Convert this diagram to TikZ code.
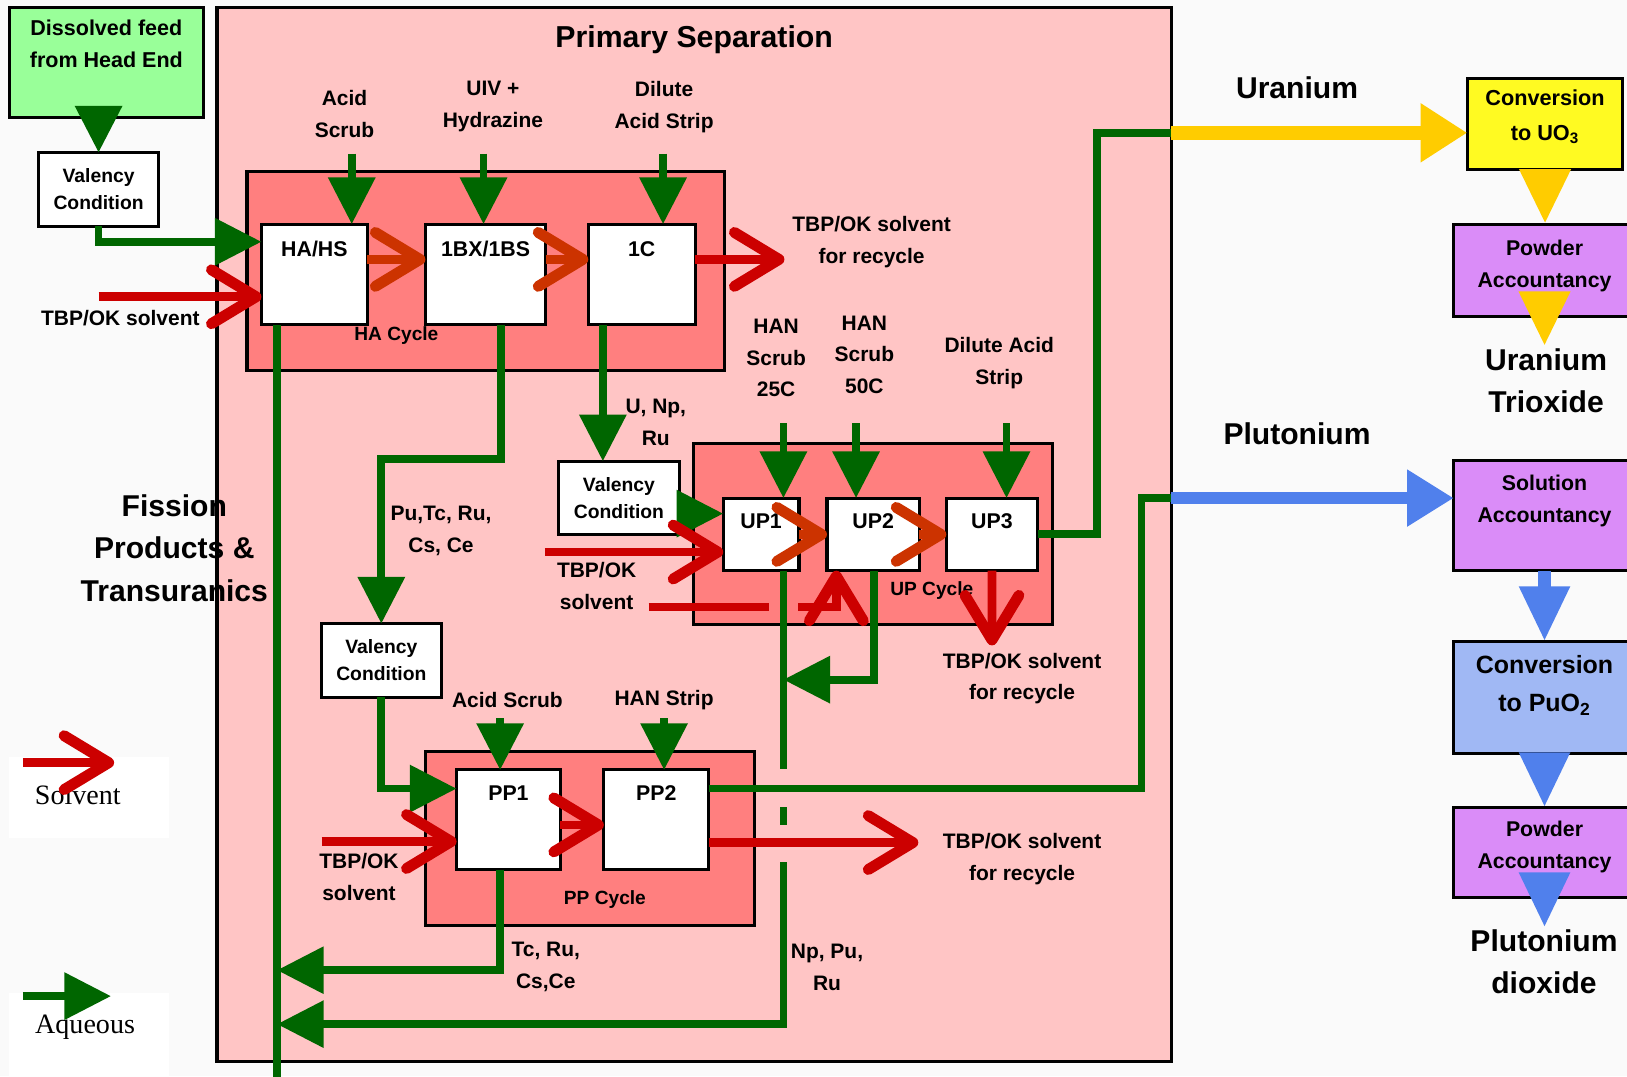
\documentclass[tikz,border=0pt]{standalone}
\usepackage{fontspec}
\setmainfont{Liberation Sans}
\newfontfamily\legendfont{Liberation Serif}
\usetikzlibrary{positioning,arrows.meta}
\definecolor{psbg}{HTML}{FFC5C5}
\definecolor{cycbg}{HTML}{FF7F7F}
\definecolor{feedbg}{HTML}{99FF99}
\definecolor{aqgreen}{HTML}{006600}
\definecolor{solvred}{HTML}{CC0000}
\definecolor{solvorange}{HTML}{CC3300}
\definecolor{uyellow}{HTML}{FFCC00}
\definecolor{uboxyellow}{HTML}{FFFA22}
\definecolor{accviolet}{HTML}{DA8CF8}
\definecolor{publuebox}{HTML}{A0B8F4}
\definecolor{publue}{HTML}{5080EC}
\newcommand{\lblfont}{\fontsize{11.5}{17.5}\selectfont\bfseries}
\newcommand{\unitfont}{\fontsize{11.7}{14}\selectfont\bfseries}
\newcommand{\vcfont}{\fontsize{10.6}{14.8}\selectfont\bfseries}
\newcommand{\cycfont}{\fontsize{10.5}{12}\selectfont\bfseries}
\newcommand{\bigfont}{\fontsize{16.5}{23.3}\selectfont\bfseries}
\newcommand{\titlefont}{\fontsize{16.6}{20}\selectfont\bfseries}
\newcommand{\feedfont}{\fontsize{11.8}{17.6}\selectfont\bfseries}
\newcommand{\prodfont}{\fontsize{11.7}{17.6}\selectfont\bfseries}
\newcommand{\convfont}{\fontsize{11.9}{18.8}\selectfont\bfseries}
\newcommand{\convpufont}{\fontsize{13.7}{21}\selectfont\bfseries}
\newcommand{\legfont}{\legendfont\mdseries\fontsize{15.4}{18}\selectfont}

\begin{document}
\begin{tikzpicture}[
  x=0.02cm, y=-0.02cm, font=\lblfont,
  box/.style={draw, line width=0.06cm, inner sep=0pt, outer sep=0pt, align=center},
  unit/.style={box, fill=white, font=\unitfont},
  harow/.style={unit, text height=0.63cm, text depth=1.31cm},
  uprow/.style={unit, text height=0.59cm, text depth=0.81cm},
  pprow/.style={unit, text height=0.59cm, text depth=1.33cm},
  vc/.style={box, fill=white, font=\vcfont, minimum width=2.32cm, minimum height=1.42cm},
  cyc/.style={box, fill=cycbg},
  prod/.style={box, minimum width=3.5cm},
  txt/.style={align=center, inner sep=1pt},
  prodtxt/.style={txt, font=\prodfont},
  cyctxt/.style={txt, font=\cycfont},
  big/.style={txt, font=\bigfont},
  legbox/.style={fill=white, inner sep=0pt, minimum width=3.08cm},
  aqline/.style={draw=aqgreen, line width=0.15cm},
  aq/.style={aqline, -{Triangle[length=0.9cm, width=0.88cm]}},
  solv/.style={draw=solvred, line width=0.17cm,
    -{Straight Barb[length=0.86cm, width=1.04cm, line width=0.21cm, round]}},
  solvo/.style={solv, draw=solvorange},
  uarr/.style={draw=uyellow, line width=0.26cm, -{Triangle[length=0.9cm, width=1.08cm]}},
  parr/.style={draw=publue, line width=0.24cm, -{Triangle[length=0.9cm, width=1.04cm]}},
  udown/.style={uarr, -{Triangle[length=1.06cm, width=0.92cm]}},
  pdown/.style={parr, -{Triangle[length=1.06cm, width=0.92cm]}}
]
\useasboundingbox (0,0) rectangle (1568,1037);
\fill[white!98!black] (0,0) rectangle (1568,1037);

\node[box, fill=psbg, minimum width=18.4cm, minimum height=20.32cm] (ps) at (669,515) {};
\node[txt, font=\titlefont] (pstitle) at (669,38) {Primary Separation};

\node[box, fill=feedbg, minimum width=3.74cm, minimum height=2.12cm,
  label={[txt, font=\feedfont, yshift=0.35cm]center:{Dissolved feed\\from Head End}}] (feed) at (102.5,60) {};
\node[vc] (vc1) at (95,182.5) {Valency\\Condition};

\node[cyc, minimum width=9.2cm, minimum height=3.84cm] (hacyc) at (468,261) {};
\node[cyc, minimum width=6.92cm, minimum height=3.5cm] (upcyc) at (841,514.5) {};
\node[cyc, minimum width=6.34cm, minimum height=3.36cm] (ppcyc) at (568.5,808) {};
\node[cyctxt] (hacyct) at (382,323) {HA Cycle};
\node[cyctxt] (upcyct) at (898,569) {UP Cycle};
\node[cyctxt] (ppcyct) at (583,867) {PP Cycle};

\node[harow, minimum width=2.04cm] (hahs) at (303,264.5) {HA/HS};
\node[harow, minimum width=2.32cm, right=1.12cm of hahs] (bx) {1BX/1BS};
\node[harow, minimum width=2.06cm, right=0.82cm of bx] (c1) {1C};
\node[uprow, minimum width=1.46cm] (up1) at (733.5,515) {UP1};
\node[uprow, minimum width=1.78cm, right=0.54cm of up1] (up2) {UP2};
\node[uprow, minimum width=1.76cm, right=0.52cm of up2] (up3) {UP3};
\node[pprow, minimum width=2.0cm] (pp1) at (490,790) {PP1};
\node[pprow, minimum width=2.02cm, right=0.84cm of pp1] (pp2) {PP2};
\node[vc] (vc2) at (596.5,480) {Valency\\Condition};
\node[vc] (vc3) at (367.5,636.5) {Valency\\Condition};

\node[box, fill=uboxyellow, minimum width=3.0cm, minimum height=1.74cm,
  label={[txt, font=\convfont, yshift=0.14cm]center:{Conversion\\to UO\textsubscript{3}}}] (conv1) at (1489,119.5) {};
\node[prod, fill=accviolet, minimum height=1.78cm,
  label={[prodtxt, yshift=0.08cm]center:{Powder\\Accountancy}}] (powu) at (1488.5,260.5) {};
\node[big] (uo3) at (1490,367) {Uranium\\Trioxide};
\node[prod, fill=accviolet, minimum height=2.12cm,
  label={[prodtxt, yshift=0.28cm]center:{Solution\\Accountancy}}] (solacc) at (1488.5,497) {};
\node[prod, fill=publuebox, minimum height=2.16cm,
  label={[txt, font=\convpufont, yshift=0.23cm]center:{Conversion\\to PuO\textsubscript{2}}}] (convpu) at (1488.5,672) {};
\node[prod, fill=accviolet, minimum height=1.74cm,
  label={[prodtxt, yshift=0.1cm]center:{Powder\\Accountancy}}] (powpu) at (1488.5,821.5) {};
\node[big] (puo2) at (1488,927) {Plutonium\\dioxide};

\node[big] (urlbl) at (1250,85) {Uranium};
\node[big] (pulbl) at (1250,418) {Plutonium};
\node[big] (fplbl) at (168,528) {Fission\\Products \&\\Transuranics};

\node[txt] (acidl) at (332,110) {Acid\\Scrub};
\node[txt] (uivl) at (475,103) {UIV +\\Hydrazine};
\node[txt] (dill) at (640,103) {Dilute\\Acid Strip};
\node[txt] (hasolvl) at (116,307) {TBP/OK solvent};
\node[txt] (harecl) at (840,233) {TBP/OK solvent\\for recycle};
\node[txt] (han25l) at (748,345) {HAN\\Scrub\\25C};
\node[txt] (han50l) at (833,342) {HAN\\Scrub\\50C};
\node[txt] (upstripl) at (963,350) {Dilute Acid\\Strip};
\node[txt] (c1outl) at (632,407) {U, Np,\\Ru};
\node[txt] (bxoutl) at (425,512) {Pu,Tc, Ru,\\Cs, Ce};
\node[txt] (upsolvl) at (575,565) {TBP/OK\\solvent};
\node[txt] (uprecl) at (985,654) {TBP/OK solvent\\for recycle};
\node[txt] (ppscrubl) at (489,675) {Acid Scrub};
\node[txt] (hanstripl) at (640,675) {HAN Strip};
\node[txt] (ppsolvl) at (346,845) {TBP/OK\\solvent};
\node[txt] (pprecl) at (985,828) {TBP/OK solvent\\for recycle};
\node[txt] (pprafl) at (526,932) {Tc, Ru,\\Cs,Ce};
\node[txt] (uprafl) at (797,932) {Np, Pu,\\Ru};

\node[legbox, minimum height=1.56cm] (legs) at (86,769) {};
\node[legbox, minimum height=1.6cm] (lega) at (86,997) {};
\node[font=\legfont] (legst) at (75,766) {Solvent};
\node[font=\legfont] (legat) at (82,990) {Aqueous};

\coordinate (haaq) at (0,233);
\coordinate (haorg) at (0,250);
\coordinate (upaq) at (0,495);
\coordinate (ppaq) at (0,760);
\coordinate (pporg) at (0,795);
\coordinate (acidin) at (339,148);
\coordinate (uivin) at (466,148);
\coordinate (dilin) at (639,148);
\coordinate (han25in) at (755,408);
\coordinate (han50in) at (825,408);
\coordinate (upstripin) at (970,408);
\coordinate (ppscrubin) at (482,692);
\coordinate (hanstripin) at (640,692);
\coordinate (hasolv) at (95,286);
\coordinate (upsolv) at (525,532);
\coordinate (ppsolv) at (310,811);
\coordinate (upscrubsolv) at (625,585);
\coordinate (upscrubturn) at (806,585);
\coordinate (harec) at (756,250);
\coordinate (uprec) at (956,622);
\coordinate (pprec) at (885,812);
\coordinate (fpout) at (267,1045);
\coordinate (bxdrop) at (483,442);
\coordinate (c1drop) at (581,400);
\coordinate (upraf) at (755,987);
\coordinate (up2drop) at (842,655);
\coordinate (ppraf) at (482,935);
\coordinate (ubend) at (1057,128);
\coordinate (uexit) at (1129,128);
\coordinate (pbend) at (1100,480);
\coordinate (pexit) at (1129,480);
\coordinate (legsa) at (22,735);
\coordinate (legsb) at (110,735);
\coordinate (legaa) at (22,960);
\coordinate (legab) at (107,960);

% HA cycle
\draw[aq] (feed.south -| vc1.north) -- (vc1.north);
\draw[aq] (vc1.south) |- (hahs.west |- haaq);
\draw[aq] (acidin) -- (acidin |- hahs.north);
\draw[aq] (uivin) -- (uivin |- bx.north);
\draw[aq] (dilin) -- (dilin |- c1.north);
\draw[solv] (hasolv) -- (hasolv -| hahs.west);
\draw[solvo] (hahs.east |- haorg) -- (bx.west |- haorg);
\draw[solvo] (bx.east |- haorg) -- (c1.west |- haorg);
\draw[solv] (c1.east |- harec) -- (harec);
\draw[aqline] (fpout |- hahs.south) -- (fpout);
\draw[aq] (bxdrop |- bx.south) -- (bxdrop) -| (vc3.north);
\draw[aq] (c1drop |- c1.south) -- (c1drop |- vc2.north);

% UP cycle
\draw[aq] (vc2.east |- upaq) -- (up1.west |- upaq);
\draw[solv] (upsolv) -- (upsolv -| up1.west);
\draw[aq] (han25in) -- (han25in |- up1.north);
\draw[aq] (han50in) -- (han50in |- up2.north);
\draw[aq] (upstripin) -- (upstripin |- up3.north);
\draw[solvo] (up1.east) -- (up2.west);
\draw[solvo] (up2.east) -- (up3.west);
\draw[solv] (upscrubsolv) -- (upscrubturn) -- (upscrubturn |- up2.south);
\fill[cycbg] (741,578) rectangle (769,592);
\draw[aq] (upraf |- up1.south) -- (upraf) -- (fpout |- upraf);
\draw[aq] (up2drop |- up2.south) -- (up2drop) -- (upraf |- up2drop);
\draw[solv] (up3.south) -- (uprec);
\draw[aqline] (up3.east) -| (ubend) -- (uexit);
\draw[uarr] (uexit) -- (uexit -| conv1.west);

% PP cycle
\draw[aq] (vc3.south) |- (pp1.west |- ppaq);
\draw[solv] (ppsolv) -- (ppsolv -| pp1.west);
\draw[aq] (ppscrubin) -- (ppscrubin |- pp1.north);
\draw[aq] (hanstripin) -- (hanstripin |- pp2.north);
\draw[solv] (pp1.east |- pporg) -- (pp2.west |- pporg);
\fill[psbg] (749,741) rectangle (761,778);
\fill[psbg] (749,795) rectangle (761,831);
\draw[aqline] (pp2.east |- ppaq) -| (pbend) -- (pexit);
\draw[solv] (pp2.east |- pprec) -- (pprec);
\draw[parr] (pexit) -- (pexit -| solacc.west);
\draw[aq] (ppraf |- pp1.south) -- (ppraf) -- (fpout |- ppraf);

% products
\draw[udown] (conv1.south) -- (conv1.south |- powu.north);
\draw[udown] (powu.south) -- (powu.south |- uo3.north);
\draw[pdown] (solacc.south) -- (convpu.north);
\draw[pdown] (convpu.south) -- (powpu.north);
\draw[pdown] (powpu.south) -- (powpu.south |- puo2.north);

\draw[solv] (legsa) -- (legsb);
\draw[aq] (legaa) -- (legab);
\end{tikzpicture}
\end{document}
